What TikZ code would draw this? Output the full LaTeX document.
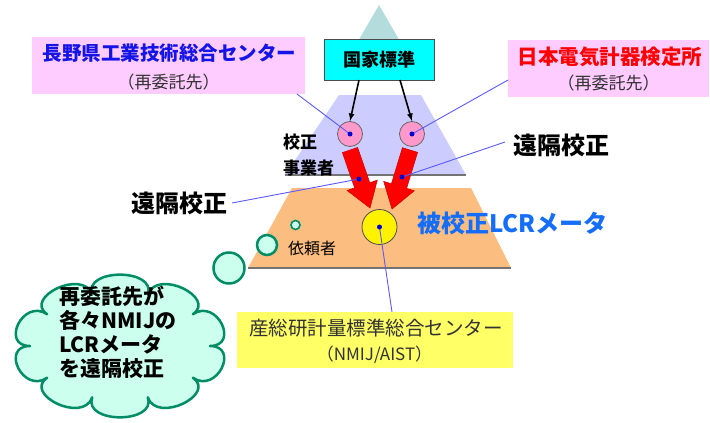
\documentclass[tikz,border=0pt]{standalone}
\usepackage{fontspec}
\setmainfont{Noto Sans CJK JP}
\definecolor{topc}{RGB}{180,220,220}
\definecolor{lavc}{RGB}{204,204,255}
\definecolor{orac}{RGB}{251,190,128}
\definecolor{boxcyan}{RGB}{0,255,255}
\definecolor{pinkc}{RGB}{255,153,204}
\definecolor{pinkbox}{RGB}{255,204,255}
\definecolor{yelbox}{RGB}{255,255,102}
\definecolor{leadc}{RGB}{90,90,255}
\definecolor{dotc}{RGB}{0,0,210}
\definecolor{naganoc}{RGB}{20,20,230}
\definecolor{meterc}{RGB}{20,110,250}
\definecolor{cloudfill}{RGB}{204,255,238}
\definecolor{cloudline}{RGB}{0,140,100}
\definecolor{textgray}{RGB}{50,50,50}
\newcommand\myfs[1]{\fontsize{#1}{#1}\selectfont}
\tikzset{
  leader/.style={draw=leadc, line width=0.9pt},
  bluedot/.style={circle, fill=dotc, minimum size=5pt, inner sep=0pt},
  pinkcirc/.style={circle, draw=black!60, fill=pinkc, line width=0.8pt, minimum size=25pt, inner sep=0pt},
  redarrow/.style={fill=red, draw=red!80!black, line width=0.5pt},
  bubble/.style={circle, draw=cloudline, fill=cloudfill, line width=2.5pt, inner sep=0pt},
  cloudpath/.style={draw=cloudline, fill=cloudfill, line width=2.5pt, line join=round},
  labelbox/.style={rectangle, inner sep=0pt, draw=none},
  txt/.style={inner sep=0pt, anchor=center}
}
\begin{document}
\begin{tikzpicture}[x=1pt,y=-1pt]
\useasboundingbox (0,0) rectangle (710,423);
% pyramid
\fill[topc] (379,5) -- (401,43) -- (357,43) -- cycle;
\fill[lavc] (339,95) -- (421,95) -- (466,175) -- (285,175) -- cycle;
\draw[black!55, line width=1.2pt] (285,175) -- (466,175);
\fill[orac] (292,188) -- (471,188) -- (511,268) -- (248,268) -- cycle;
\draw[black!55, line width=1.4pt] (248,268) -- (511,268);
% national standard box
\node[labelbox, draw=black!70, line width=0.8pt, fill=boxcyan, minimum width=110pt, minimum height=41pt] (nat) at (379,59.5) {};
\node[txt] (nattext) at (379,60) {\myfs{18}\bfseries 国家標準};
% pink circles
\node[pinkcirc] (p1) at (350,134) {};
\node[pinkcirc] (p2) at (412,134) {};
\coordinate (a1s) at (359,80);
\coordinate (a2s) at (400,80);
\draw[-latex, line width=1.6pt] (a1s) -- (p1.north);
\draw[-latex, line width=1.6pt] (a2s) -- (p2.north);
% red arrows
\draw[redarrow] (342.4,152.6) -- (357.6,147.4) -- (369.8,182.7) -- (377.3,180.1) -- (370,208) -- (347.1,190.5) -- (354.6,187.9) -- cycle;
\draw[redarrow] (402.4,147.7) -- (417.6,152.3) -- (406.6,188.4) -- (414.3,190.8) -- (392,209) -- (383.7,181.4) -- (391.4,183.8) -- cycle;
% meter circle and client circle
\node[circle, draw=black!70, fill=yellow, line width=0.8pt, minimum size=35pt, inner sep=0pt] (meter) at (379.5,227) {};
\node[circle, draw=cloudline, fill=cloudfill, line width=1.6pt, minimum size=9pt, inner sep=0pt] (client) at (295.5,225) {};
% labels
\node[labelbox, fill=pinkbox, minimum width=273pt, minimum height=57pt] (nagano) at (168.5,65.5) {};
\node[txt, text=naganoc] (naganot) at (169.5,53) {\myfs{19.5}\bfseries 長野県工業技術総合センター};
\node[txt, text=textgray] (naganos) at (168.5,82) {\myfs{17}（再委託先）};
\node[labelbox, fill=pinkbox, minimum width=201pt, minimum height=57pt] (jemic) at (608.5,68.5) {};
\node[txt, text=red] (jemict) at (610,57) {\myfs{20.5}\bfseries 日本電気計器検定所};
\node[txt, text=textgray] (jemics) at (608.5,83) {\myfs{17}（再委託先）};
\node[labelbox, fill=yelbox, minimum width=276pt, minimum height=56pt] (aist) at (375,340) {};
\node[txt, text=textgray] (aistt) at (376,328) {\myfs{19.5}産総研計量標準総合センター};
\node[txt, text=textgray] (aists) at (374.5,355) {\myfs{17}（NMIJ/AIST）};
\node[txt, anchor=west] (kousei1) at (283,142) {\myfs{17}\bfseries 校正};
\node[txt, anchor=west] (kousei2) at (283,168) {\myfs{17}\bfseries 事業者};
\node[txt] (irai) at (312,248) {\myfs{16}依頼者};
\node[txt] (enkakuR) at (561.5,145) {\myfs{24}\bfseries 遠隔校正};
\node[txt] (enkakuL) at (179.5,203) {\myfs{24}\bfseries 遠隔校正};
\node[txt, text=meterc] (meterlabel) at (512.5,223) {\myfs{24}\bfseries 被校正LCRメータ};
% leader lines
\coordinate (d1) at (359,179);
\coordinate (d2) at (402,177);
\coordinate (lnag) at (297,94);
\coordinate (ljem) at (508,80);
\coordinate (lenR) at (505,142);
\coordinate (lenL) at (232,203);
\coordinate (laist) at (392,312);
\draw[leader] (lnag) -- (p1.center);
\draw[leader] (ljem) -- (p2.center);
\draw[leader] (lenR) -- (d2);
\draw[leader] (lenL) -- (d1);
\draw[leader] (laist) -- (meter.center);
\node[bluedot] (dp1) at (p1.center) {};
\node[bluedot] (dp2) at (p2.center) {};
\node[bluedot] (dd1) at (d1) {};
\node[bluedot] (dd2) at (d2) {};
\node[bluedot] (dm) at (meter.center) {};
% thought bubble
\node[bubble, minimum size=20pt] (b1) at (267,245) {};
\node[bubble, minimum size=31pt] (b2) at (229,268) {};
\coordinate (cc) at (120,346);
\draw[cloudpath] ({120+90*cos(0)},{346+54*sin(0)})
  \foreach \i [evaluate=\i as \t using {\i*36}, evaluate=\i as \lt using {(\i-1)*36}] in {1,...,10} {
    .. controls ({120+120*cos(\lt)},{346+82*sin(\lt)}) and ({120+120*cos(\t)},{346+82*sin(\t)}) .. ({120+90*cos(\t)},{346+54*sin(\t)})
  } -- cycle;
\node[txt, align=left, anchor=north west, font={\fontsize{21}{24}\selectfont\bfseries}] (cloudtext) at (59,285.5) {再委託先が\\各々NMIJの\\LCRメータ\\を遠隔校正};
\end{tikzpicture}
\end{document}
